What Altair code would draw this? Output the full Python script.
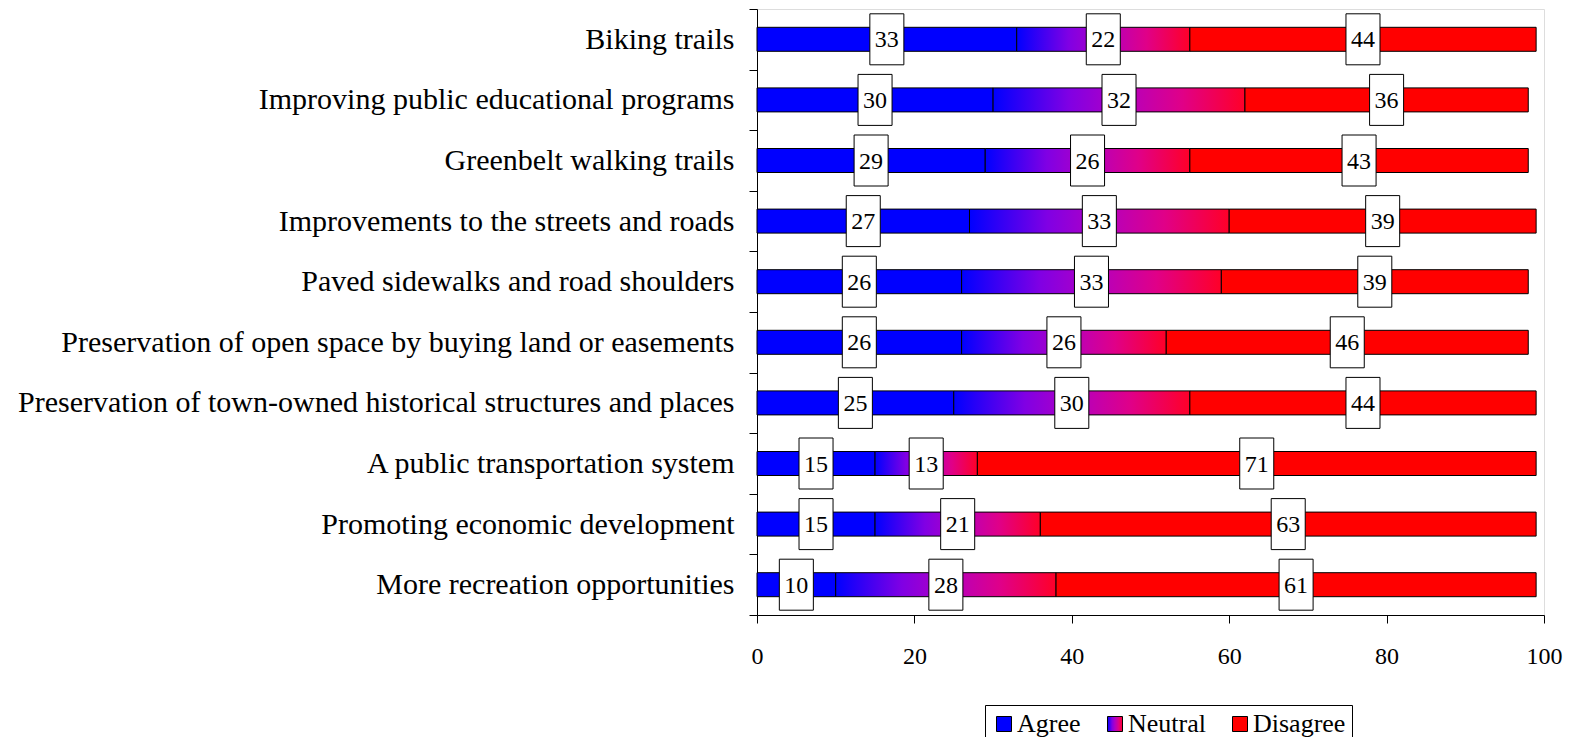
import altair as alt
import pandas as pd

categories = [
    "Biking trails",
    "Improving public educational programs",
    "Greenbelt walking trails",
    "Improvements to the streets and roads",
    "Paved sidewalks and road shoulders",
    "Preservation of open space by buying land or easements",
    "Preservation of town-owned historical structures and places",
    "A public transportation system",
    "Promoting economic development",
    "More recreation opportunities",
]
agree = [33, 30, 29, 27, 26, 26, 25, 15, 15, 10]
neutral = [22, 32, 26, 33, 33, 26, 30, 13, 21, 28]
disagree = [44, 36, 43, 39, 39, 46, 44, 71, 63, 61]
series = ["Agree", "Neutral", "Disagree"]
x_ticks = [0, 20, 40, 60, 80, 100]

rows = []
for i, cat in enumerate(categories):
    start = 0
    for k, (s, vals) in enumerate(zip(series, [agree, neutral, disagree])):
        v = vals[i]
        rows.append({"category": cat, "series": s, "order": k, "value": v,
                     "start": start, "end": start + v, "mid": start + v / 2})
        start += v
df = pd.DataFrame(rows)

FONT = "Liberation Serif"
gradient_expr = ("{'gradient': 'linear', 'x1': 0, 'y1': 0, 'x2': 1, 'y2': 0, "
                 "'stops': [{'offset': 0, 'color': '#0000ff'}, "
                 "{'offset': 0.3, 'color': '#8000e4'}, "
                 "{'offset': 0.5, 'color': '#b000c4'}, "
                 "{'offset': 0.75, 'color': '#e00088'}, "
                 "{'offset': 1, 'color': '#ff0028'}]}")

y_enc = alt.Y("category:N", sort=categories,
              scale=alt.Scale(paddingInner=0, paddingOuter=0),
              axis=alt.Axis(title=None, tickBand="extent", tickSize=8, tickColor="black",
                            domainColor="black", labelFont=FONT, labelFontSize=30,
                            labelColor="black", labelPadding=15, labelLimit=1000))
x_scale = alt.Scale(domain=[0, 100], nice=False)
x_axis = alt.Axis(title=None, values=x_ticks, tickSize=8, tickColor="black", domainColor="black",
                  labelFont=FONT, labelFontSize=24, labelColor="black", labelPadding=21,
                  grid=False, labelFlush=False)

base = alt.Chart(df)

bars = base.mark_bar(size=24, stroke="black", strokeWidth=1, opacity=1).encode(
    y=y_enc,
    x=alt.X("start:Q", scale=x_scale, axis=x_axis),
    x2="end:Q",
    color=alt.Color("series:N",
                    scale=alt.Scale(domain=series,
                                    range=["#0000ff", alt.ExprRef(expr=gradient_expr), "#ff0000"]),
                    legend=alt.Legend(title=None, orient="none", legendX=228, legendY=696,
                                      direction="horizontal", strokeColor="black", fillColor="white",
                                      padding=6, symbolType="square", symbolSize=225,
                                      symbolStrokeColor="black", symbolStrokeWidth=1,
                                      labelFont=FONT, labelFontSize=26, labelColor="black",
                                      labelOffset=0, columnPadding=21, labelLimit=500)),
    order=alt.Order("order:Q"),
)

boxes = base.mark_point(shape="M-0.667,-1H0.667V1H-0.667Z", size=51 * 51, filled=True,
                        fill="white", stroke="black", strokeWidth=1, opacity=1,
                        fillOpacity=1, strokeOpacity=1).encode(
    y=alt.Y("category:N", sort=categories),
    x=alt.X("mid:Q", scale=x_scale),
)

labels = base.mark_text(font=FONT, fontSize=24, color="black", align="center",
                        baseline="middle", dy=1).encode(
    y=alt.Y("category:N", sort=categories),
    x=alt.X("mid:Q", scale=x_scale),
    text=alt.Text("value:Q"),
)

chart = alt.layer(bars, boxes, labels).properties(
    width=787, height=606,
    autosize=alt.AutoSizeParams(type="none"),
    padding={"left": 749, "top": 1, "right": 20, "bottom": 122},
).configure_view(stroke="transparent").configure(font=FONT)

chart.save("out.html", embed_options={"renderer": "svg", "actions": False})
